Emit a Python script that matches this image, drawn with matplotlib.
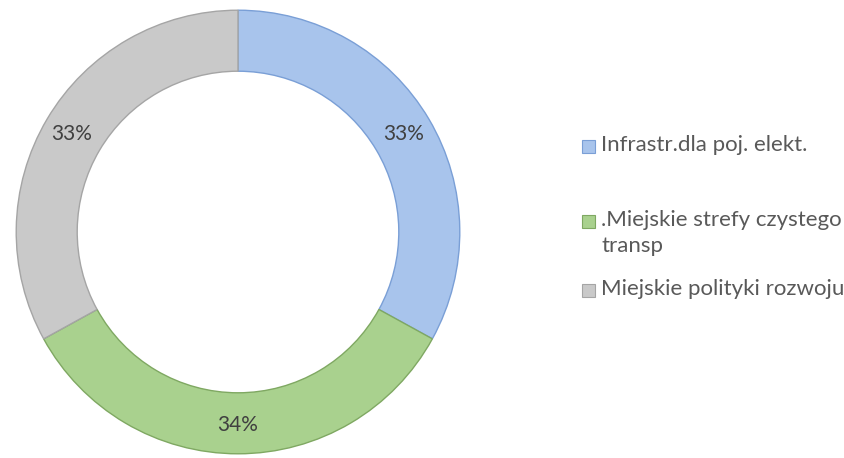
import matplotlib
matplotlib.use("Agg")
import matplotlib.pyplot as plt
from matplotlib.patches import Rectangle

labels = ["Infrastr.dla poj. elekt.", ".Miejskie strefy czystego\ntransp", "Miejskie polityki rozwoju"]
values = [33, 34, 33]
colors = ["#A8C4EC", "#A9D18E", "#C9C9C9"]
edges = ["#7A9FD6", "#7FA862", "#A5A5A5"]

plt.rcParams['font.family'] = ['Lato', 'DejaVu Sans']

fig = plt.figure(figsize=(8.45, 4.58), dpi=100)
W, H = 845, 458
cx, cy, r = 238, 232, 224
ax = fig.add_axes([(cx - r) / W, (H - cy - r) / H, 2 * r / W, 2 * r / H])

wedges, texts, autotexts = ax.pie(values, colors=colors, startangle=90, counterclock=False,
                                  radius=1.0, autopct='%d%%', pctdistance=0.87,
                                  wedgeprops=dict(width=0.275, linewidth=1.0),
                                  textprops=dict(fontsize=15, color="#404040"))
for w, ec in zip(wedges, edges):
    w.set_edgecolor(ec)
ax.set_xlim(-1.01, 1.01)
ax.set_ylim(-1.01, 1.01)
ax.set_aspect('equal')
ax.axis('off')

# legend drawn by hand (Excel-like uneven spacing), y = first line centre in px
leg_y = [146, 221, 290]
for lab, col, ec, y in zip(labels, colors, edges, leg_y):
    fig.patches.append(Rectangle((582 / W, 1 - (y + 6.5) / H), 13 / W, 13 / H,
                                 transform=fig.transFigure, facecolor=col,
                                 edgecolor=ec, linewidth=0.8))
    fig.text(601 / W, 1 - (y - 11) / H, lab, fontsize=16, color="#595959",
             va='top', ha='left', linespacing=1.35)

fig.savefig("out.png", dpi=100)
